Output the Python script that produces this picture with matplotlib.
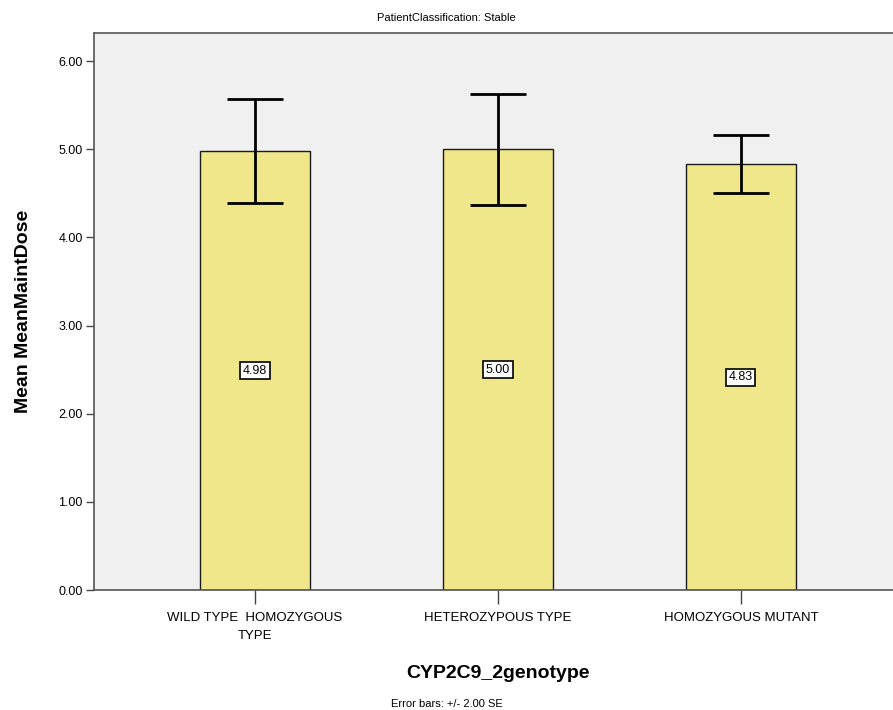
import matplotlib
matplotlib.use("Agg")
import matplotlib.pyplot as plt
import numpy as np

plt.rcParams['font.family'] = ['Liberation Sans', 'DejaVu Sans']

categories = ["WILD TYPE  HOMOZYGOUS\nTYPE", "HETEROZYPOUS TYPE", "HOMOZYGOUS MUTANT"]
means = [4.98, 5.00, 4.83]
errors = [0.59, 0.63, 0.33]
labels = ["4.98", "5.00", "4.83"]
yticks = [0, 1, 2, 3, 4, 5, 6]

fig = plt.figure(figsize=(8.93, 7.10), dpi=100)
ax = fig.add_axes([0.1053, 0.169, 0.8947 + 0.01, 0.7845])
ax.set_facecolor("#F0F0F0")

x = np.arange(len(categories))
ax.bar(x, means, width=0.45, color="#F0E68A", edgecolor="#1a1a1a", linewidth=1.0, zorder=2)
ax.errorbar(x, means, yerr=errors, fmt="none", ecolor="black", elinewidth=2.0,
            capsize=20.5, capthick=2.0, zorder=3)
for xi, m, lab in zip(x, means, labels):
    ax.text(xi, m / 2, lab, ha="center", va="center", fontsize=9,
            bbox=dict(boxstyle="square,pad=0.2", facecolor="white", edgecolor="black", linewidth=1.2),
            zorder=4)

ax.set_xlim(-0.663, 2.663)
ax.set_ylim(0, 6.32)
ax.set_yticks(yticks)
ax.set_yticklabels([f"{v:.2f}" for v in yticks], fontsize=9)
ax.set_xticks(x)
ax.set_xticklabels(categories, fontsize=9.5, linespacing=1.6)
ax.tick_params(axis="x", length=10, width=1, color="#444444", pad=6)
ax.tick_params(axis="y", length=6, width=1, color="#444444", pad=2)
for s in ["left", "bottom", "top"]:
    ax.spines[s].set_color("#555555")
    ax.spines[s].set_linewidth(1.2)
ax.spines["right"].set_visible(False)

ax.set_ylabel("Mean MeanMaintDose", fontsize=14, fontweight="bold", labelpad=19)
ax.set_xlabel("CYP2C9_2genotype", fontsize=14, fontweight="bold", labelpad=17)
fig.text(0.5, 0.975, "PatientClassification: Stable", ha="center", va="center", fontsize=8)
fig.text(0.5, 1 - 704 / 710, "Error bars: +/- 2.00 SE", ha="center", va="center", fontsize=8)

fig.savefig("out.png", dpi=100)
